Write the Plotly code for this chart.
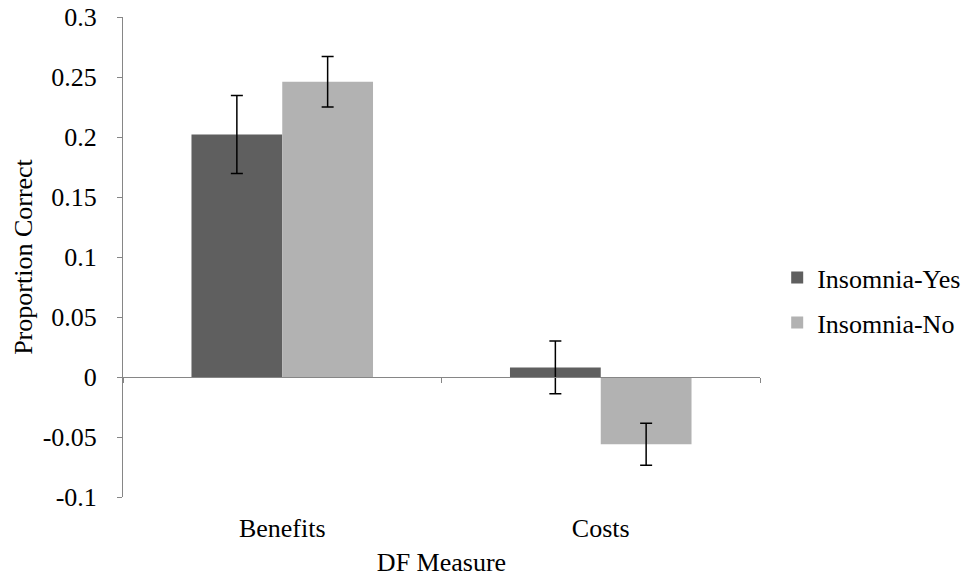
import plotly.graph_objects as go

categories = ["Benefits", "Costs"]
series_names = ["Insomnia-Yes", "Insomnia-No"]
insomnia_yes = [0.202, 0.008]
insomnia_yes_err = [0.0325, 0.022]
insomnia_no = [0.246, -0.056]
insomnia_no_err = [0.021, 0.0175]
y_ticks = [-0.1, -0.05, 0, 0.05, 0.1, 0.15, 0.2, 0.25, 0.3]
y_tick_labels = ["-0.1", "-0.05", "0", "0.05", "0.1", "0.15", "0.2", "0.25", "0.3"]

FONT = "Times New Roman, Liberation Serif, serif"
FS = 26
AX = "#868686"
f = dict(family=FONT, size=FS, color="black")

fig = go.Figure()
for name, vals, errs, col in [
    (series_names[0], insomnia_yes, insomnia_yes_err, "#5f5f5f"),
    (series_names[1], insomnia_no, insomnia_no_err, "#b2b2b2"),
]:
    fig.add_trace(go.Bar(
        x=categories, y=vals, name=name, legendgroup=name,
        marker=dict(color=col, line=dict(width=0)),
        error_y=dict(type="data", array=errs, visible=True,
                     color="black", thickness=1.5, width=6),
    ))

# helper trace so the zero-line axis with category-boundary ticks is drawn
fig.add_trace(go.Scatter(x=[0], y=[0], xaxis="x2", mode="markers",
                         marker=dict(opacity=0), showlegend=False, hoverinfo="skip"))

fig.update_layout(
    template="none",
    width=966, height=580,
    margin=dict(l=123, r=206, t=17, b=83, autoexpand=False),
    paper_bgcolor="white", plot_bgcolor="white",
    font=f,
    barmode="group", bargap=0.43, bargroupgap=0,
    showlegend=True,
    legend=dict(x=1.027, y=0.41, xanchor="left", yanchor="middle",
                traceorder="grouped", tracegroupgap=8,
                font=f, bgcolor="rgba(0,0,0,0)", borderwidth=0),
    xaxis=dict(type="category", range=[-0.5, 1.5], showline=False, ticks="",
               showgrid=False, zeroline=False, ticklabelstandoff=13,
               tickfont=f, automargin=False,
               title=dict(text="DF Measure", standoff=10, font=f)),
    xaxis2=dict(range=[-0.5, 1.5], overlaying="x", anchor="free", position=0.25,
                side="bottom", showline=True, linecolor=AX, linewidth=1,
                ticks="outside", ticklen=5, tickcolor=AX, tickwidth=1,
                tickvals=[-0.5, 0.5, 1.5], showticklabels=False,
                showgrid=False, zeroline=False, automargin=False),
    yaxis=dict(range=[-0.1, 0.3], tickvals=y_ticks, ticktext=y_tick_labels,
               showline=True, linecolor=AX, linewidth=1,
               ticks="outside", ticklen=5, tickcolor=AX, tickwidth=1,
               showgrid=False, zeroline=False, ticklabelstandoff=15,
               ticklabeloverflow="allow",
               tickfont=f, automargin=False,
               title=dict(text="Proportion Correct", standoff=2, font=f)),
)

fig.write_html("out.html", config={"displayModeBar": False},
               post_script="document.body.style.margin='0';")
